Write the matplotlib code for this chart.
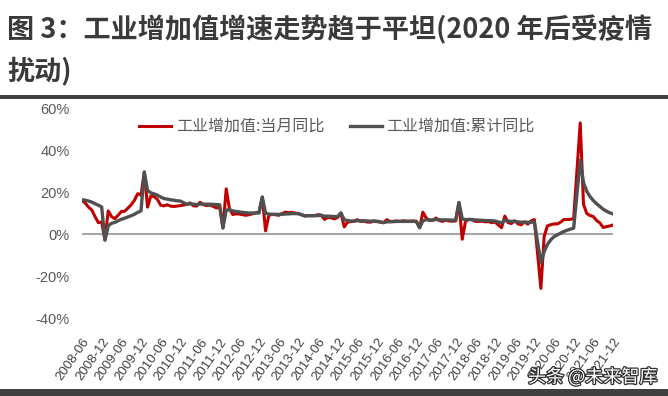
import numpy as np
import matplotlib
matplotlib.use("Agg")
from matplotlib import pyplot as plt
import matplotlib.patheffects as pe

plt.rcParams['font.family'] = ['Noto Sans CJK SC', 'DejaVu Sans']

# months 2008-06 .. 2021-12
months = []
for y in range(2008, 2022):
    for m in range(1, 13):
        if y == 2008 and m < 6:
            continue
        months.append(f"{y}-{m:02d}")

N = None
# 工业增加值:当月同比 (%)
monthly = [
    16.0, 14.7, 12.8, 11.4, 8.2, 5.4, 5.7,
    -2.9, 11.0, 8.3, 7.3, 8.9, 10.7, 10.8, 12.3, 13.9, 16.1, 19.2, 18.5,
    29.5, 12.8, 18.1, 17.8, 16.5, 13.7, 13.4, 13.9, 13.3, 13.1, 13.3, 13.5,
    N, 14.1, 14.8, 13.4, 13.3, 15.1, 14.0, 13.5, 13.8, 13.2, 12.4, 12.8,
    2.9, 21.5, 11.9, 9.3, 9.6, 9.5, 9.2, 8.9, 9.2, 9.6, 10.1, 10.3,
    17.6, 1.5, 8.9, 9.3, 9.2, 8.9, 9.7, 10.4, 10.2, 10.3, 10.0, 9.7,
    N, 8.6, 8.8, 8.7, 8.8, 9.2, 9.0, 6.9, 8.0, 7.7, 7.2, 7.9,
    10.0, 3.4, 5.6, 5.9, 6.1, 6.8, 6.0, 6.1, 5.7, 5.6, 6.2, 5.9,
    N, 5.4, 6.8, 6.0, 6.0, 6.2, 6.0, 6.3, 6.1, 6.1, 6.2, 6.0,
    3.0, 10.4, 7.6, 6.5, 6.5, 7.6, 6.4, 6.0, 6.6, 6.2, 6.1, 6.2,
    15.0, -2.5, 6.0, 7.0, 6.8, 6.0, 6.0, 6.1, 5.8, 5.9, 5.4, 5.7,
    N, 3.0, 8.5, 5.4, 5.0, 6.3, 4.8, 4.4, 5.8, 4.7, 6.2, 6.9,
    N, -25.9, -1.1, 3.9, 4.4, 4.8, 4.8, 5.6, 6.9, 6.9, 7.0, 7.3,
    N, 52.9, 14.1, 9.8, 8.8, 8.3, 6.4, 5.3, 3.1, 3.5, 3.8, 4.3,
]
# 工业增加值:累计同比 (%)
cumul = [
    16.3, 16.1, 15.7, 15.2, 14.4, 13.7, 12.9,
    -2.9, 3.8, 5.1, 5.5, 6.3, 7.0, 7.5, 8.1, 8.7, 9.4, 10.3, 11.0,
    29.5, 20.7, 19.6, 19.1, 18.5, 17.6, 16.9, 16.6, 16.3, 16.1, 15.8, 15.7,
    N, 14.1, 14.4, 14.2, 14.0, 14.3, 14.2, 14.2, 14.2, 14.1, 14.0, 13.9,
    2.9, 11.4, 11.6, 11.0, 10.7, 10.5, 10.3, 10.1, 10.0, 10.0, 10.0, 10.0,
    17.6, 9.9, 9.5, 9.4, 9.4, 9.3, 9.4, 9.5, 9.6, 9.7, 9.7, 9.7,
    N, 8.6, 8.7, 8.7, 8.7, 8.8, 8.8, 8.5, 8.5, 8.4, 8.3, 8.3,
    10.0, 6.8, 6.4, 6.2, 6.2, 6.3, 6.3, 6.3, 6.2, 6.1, 6.1, 6.1,
    N, 5.4, 5.8, 5.8, 5.9, 6.0, 6.0, 6.0, 6.0, 6.0, 6.0, 6.0,
    3.0, 6.3, 6.8, 6.7, 6.7, 6.9, 6.8, 6.7, 6.7, 6.7, 6.6, 6.6,
    15.0, 7.2, 6.8, 6.9, 6.9, 6.7, 6.6, 6.5, 6.4, 6.4, 6.3, 6.2,
    N, 5.3, 6.5, 6.2, 6.0, 6.0, 5.8, 5.6, 5.6, 5.6, 5.6, 5.7,
    N, -13.5, -8.4, -4.9, -2.8, -1.3, -0.4, 0.4, 1.2, 1.8, 2.3, 2.8,
    N, 35.1, 24.5, 20.3, 17.8, 15.9, 14.4, 13.1, 11.8, 10.9, 10.1, 9.6,
]
yticks = [-40, -20, 0, 20, 40, 60]

title = "图 3：工业增加值增速走势趋于平坦(2020 年后受疫情\n扰动)"
label_m = "工业增加值:当月同比"
label_c = "工业增加值:累计同比"

W, H = 668, 396
fig = plt.figure(figsize=(W / 100, H / 100), dpi=100)
ax = fig.add_axes([82 / W, (H - 318) / H, (613 - 82) / W, 210 / H])

x = np.arange(len(months))
m = np.array([np.nan if v is None else v for v in monthly])
c = np.array([np.nan if v is None else v for v in cumul])
ok_m = ~np.isnan(m)
ok_c = ~np.isnan(c)

ax.axhline(0, color='#a6a6a6', lw=1.5, zorder=1)
ax.plot(x[ok_m], m[ok_m], color='#c00000', lw=2.2, label=label_m, zorder=2)
ax.plot(x[ok_c], c[ok_c], color='#505050', lw=2.4, label=label_c, zorder=3)

ax.set_xlim(0, len(months) - 1)
ax.set_ylim(-40, 60)
ax.set_yticks(yticks)
ax.set_yticklabels([f"{v}%" for v in yticks], family='Liberation Sans',
                   fontsize=10.5, color='#595959')
ticks = x[::6]
ax.set_xticks(ticks)
ax.set_xticklabels([months[i] for i in ticks], rotation=55, ha='right',
                   rotation_mode='anchor', family='Liberation Sans',
                   fontsize=9.5, color='#404040')
ax.tick_params(axis='both', length=0)
ax.tick_params(axis='x', pad=13)
ax.tick_params(axis='y', pad=9)
for s in ax.spines.values():
    s.set_visible(False)

ax.legend(loc='upper center', bbox_to_anchor=(0.48, 1.02), ncol=2, frameon=False,
          fontsize=11.5, labelcolor='#595959', handlelength=2.0, columnspacing=1.6,
          handletextpad=0.3)

fig.text(7 / W, 1 - 15 / H, title, ha='left', va='top', fontsize=19.5,
         fontweight='bold', color='#3a3a3a', linespacing=1.55)

# dark bars
fig.add_artist(plt.Rectangle((0, 1 - 99 / H), 1, 4 / H, transform=fig.transFigure,
                             color='#404040', lw=0))
fig.add_artist(plt.Rectangle((0, 0), 1, 7 / H, transform=fig.transFigure,
                             color='#404040', lw=0))

fig.text(657 / W, 19 / H, "头条 @未来智库", ha='right', va='center', fontsize=13,
         color='white', path_effects=[pe.withStroke(linewidth=1.8, foreground='#303030')])

fig.savefig("out.png", dpi=100)
